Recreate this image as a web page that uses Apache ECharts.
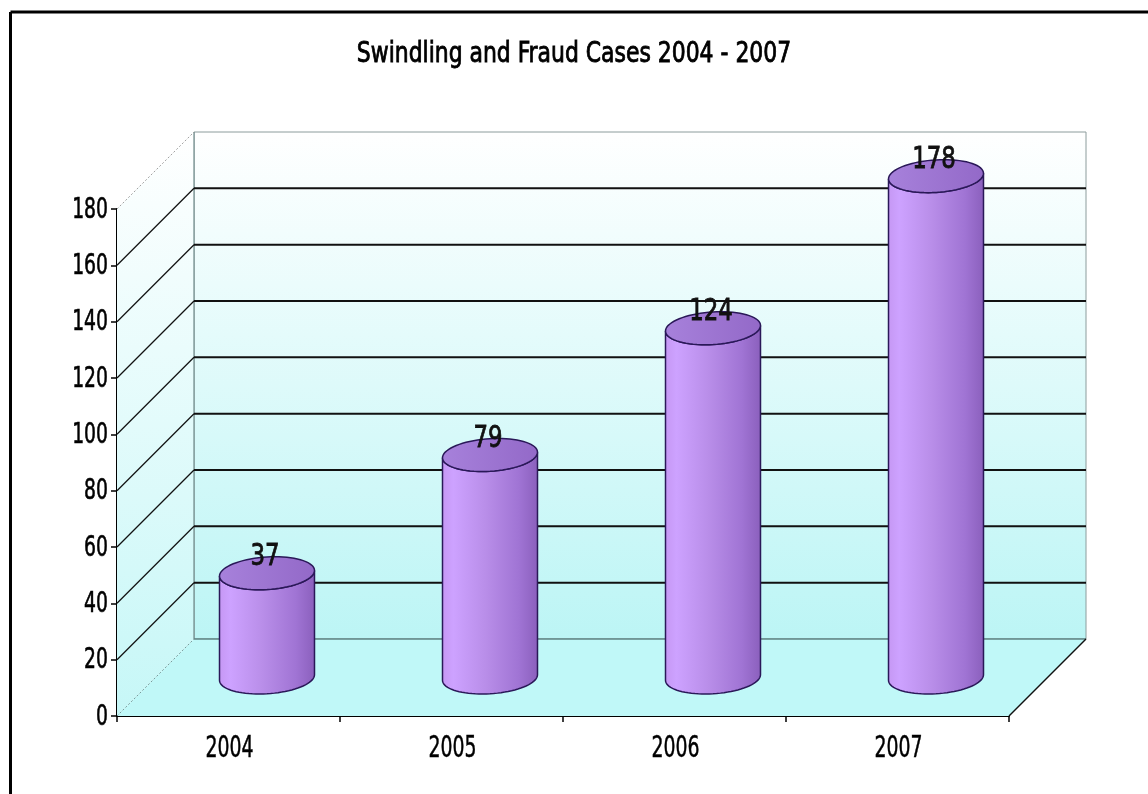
<!DOCTYPE html>
<html>
<head>
<meta charset="utf-8">
<script src="https://cdn.jsdelivr.net/npm/echarts@6/dist/echarts.min.js"></script>
<style>
html,body{margin:0;padding:0;background:#fff;}
#chart{width:1148px;height:794px;}
</style>
</head>
<body>
<div id="chart"></div>
<script>
// ---- data ----
const titleText = 'Swindling and Fraud Cases 2004 - 2007';
const categories = ['2004', '2005', '2006', '2007'];
const caseCounts = [37, 79, 124, 178];
const yTicks = [0, 20, 40, 60, 80, 100, 120, 140, 160, 180];

// ---- style constants ----
const FONT = "'DejaVu Sans Condensed', 'Liberation Sans Narrow', sans-serif";
const DEPTH_X = 77, DEPTH_Y = -77;
const CYL_RATIO = 0.426, CYL_RY = 16.5, CYL_SHEAR = 8;
const Y_MAX = yTicks[yTicks.length - 1];
const NARROW = 0.72;

const chart = echarts.init(document.getElementById('chart'), null, {renderer: 'canvas'});

function frame(api) {
  const band = api.size([1, 0])[0];
  const L = api.coord([0, 0])[0] - band / 2;
  const R = api.coord([categories.length - 1, 0])[0] + band / 2;
  const y0 = api.coord([0, 0])[1];
  const yT = api.coord([0, Y_MAX])[1];
  return {band, L, R, y0, yT};
}

function renderWalls(params, api) {
  const f = frame(api);
  const {L, R, y0, yT} = f, dx = DEPTH_X, dy = DEPTH_Y;
  const wallGrad = new echarts.graphic.LinearGradient(0, 0, 0, 1, [
    {offset: 0, color: '#ffffff'}, {offset: 1, color: '#bcf5f5'}]);
  const sideGrad = new echarts.graphic.LinearGradient(0, 0, 0, 1, [
    {offset: 0, color: '#ffffff'}, {offset: 1, color: '#c6f7f7'}]);
  return {
    type: 'group',
    children: [
      {type: 'polygon', shape: {points: [[L + dx, yT + dy], [R + dx, yT + dy], [R + dx, y0 + dy], [L + dx, y0 + dy]]},
        style: {fill: wallGrad, stroke: '#8c9c9c', lineWidth: 1}},
      {type: 'polygon', shape: {points: [[L, y0], [L, yT], [L + dx, yT + dy], [L + dx, y0 + dy]]},
        style: {fill: sideGrad, stroke: null}},
      {type: 'polygon', shape: {points: [[L, y0], [R, y0], [R + dx, y0 + dy], [L + dx, y0 + dy]]},
        style: {fill: '#c0f8f8', stroke: null}},
      {type: 'line', shape: {x1: L + dx, y1: yT + dy, x2: L + dx, y2: y0 + dy}, style: {stroke: '#6f8a8a', lineWidth: 1.2}},
      {type: 'line', shape: {x1: L + dx, y1: y0 + dy, x2: R + dx, y2: y0 + dy}, style: {stroke: '#5f8585', lineWidth: 1.5}},
      {type: 'line', shape: {x1: R, y1: y0, x2: R + dx, y2: y0 + dy}, style: {stroke: '#111', lineWidth: 1.5}},
      {type: 'line', shape: {x1: L, y1: yT, x2: L + dx, y2: yT + dy}, style: {stroke: '#a0a0a0', lineWidth: 1, lineDash: [2, 2]}},
      {type: 'line', shape: {x1: L, y1: y0, x2: L + dx, y2: y0 + dy}, style: {stroke: '#7a9a9a', lineWidth: 1, lineDash: [2, 2]}}
    ]
  };
}

function renderGrid(params, api) {
  const v = api.value(0);
  const f = frame(api);
  const y = api.coord([0, v])[1];
  const dx = DEPTH_X, dy = DEPTH_Y;
  const children = [
    {type: 'text', x: f.L - 9, y: y + 1, scaleX: NARROW,
      style: {text: String(v), x: 0, y: 0, textAlign: 'right', textVerticalAlign: 'middle',
        fontFamily: FONT, fontSize: 29, fill: '#000', stroke: '#000', lineWidth: 0.6}}
  ];
  if (v > 0 && v < Y_MAX) {
    children.push(
      {type: 'line', shape: {x1: f.L, y1: y, x2: f.L + dx, y2: y + dy}, style: {stroke: '#111', lineWidth: 1.3}},
      {type: 'line', shape: {x1: f.L + dx, y1: y + dy, x2: f.R + dx, y2: y + dy}, style: {stroke: '#111', lineWidth: 2}}
    );
  }
  return {type: 'group', children};
}

function renderCategoryLabel(params, api) {
  const i = api.value(0);
  const p = api.coord([i, 0]);
  return {type: 'text', x: p[0] + 1, y: p[1] + 33, scaleX: 0.7,
    style: {text: categories[i], x: 0, y: 0, textAlign: 'center', textVerticalAlign: 'middle',
      fontFamily: FONT, fontSize: 30, fill: '#000', stroke: '#000', lineWidth: 0.5}};
}

function renderCylinder(params, api) {
  const i = api.value(0), v = api.value(1);
  const band = api.size([1, 0])[0];
  const top = api.coord([i, v]), base = api.coord([i, 0]);
  const cx = top[0] + DEPTH_X / 2;
  const ty = top[1] + DEPTH_Y / 2, by = base[1] + DEPTH_Y / 2;
  const half = band * CYL_RATIO / 2;
  const s = CYL_SHEAR;
  const rx = Math.sqrt(half * half - s * s), ry = CYL_RY;
  const pt = (t, cy) => [cx + rx * Math.cos(t) - s * Math.sin(t), cy + ry * Math.sin(t)];
  const t0 = Math.atan2(-s, rx), t1 = t0 + Math.PI;
  const N = 40;
  const body = [];
  for (let k = 0; k <= N; k++) body.push(pt(t0 + (t1 - t0) * k / N, by));
  for (let k = 0; k <= N; k++) body.push(pt(t1 - (t1 - t0) * k / N, ty));
  const cap = [];
  for (let k = 0; k < 72; k++) cap.push(pt(2 * Math.PI * k / 72, ty));
  const bodyGrad = new echarts.graphic.LinearGradient(0, 0, 1, 0, [
    {offset: 0, color: '#c597f3'}, {offset: 0.12, color: '#cda2ff'}, {offset: 0.45, color: '#b98ee9'},
    {offset: 0.8, color: '#a074d4'}, {offset: 1, color: '#8a5fbc'}]);
  const capGrad = new echarts.graphic.LinearGradient(0, 0, 1, 0, [
    {offset: 0, color: '#a781db'}, {offset: 1, color: '#9369c8'}]);
  return {
    type: 'group',
    children: [
      {type: 'polygon', shape: {points: body}, style: {fill: bodyGrad, stroke: '#2a1858', lineWidth: 1.5}},
      {type: 'polygon', shape: {points: cap}, style: {fill: capGrad, stroke: '#2a1858', lineWidth: 1.5}},
      {type: 'text', x: cx - 2, y: ty - 16, scaleX: 0.82,
        style: {text: String(v), x: 0, y: 0, textAlign: 'center', textVerticalAlign: 'middle',
          fontFamily: FONT, fontSize: 31, fontWeight: 'normal', fill: '#111', stroke: '#111', lineWidth: 0.8}}
    ]
  };
}

const option = {
  backgroundColor: '#ffffff',
  animation: false,
  grid: {left: 117, right: 139, top: 209, bottom: 78},
  xAxis: {
    type: 'category', data: categories, boundaryGap: true,
    axisLine: {show: true, lineStyle: {color: '#000', width: 2}},
    axisTick: {show: true, length: 6, lineStyle: {color: '#000', width: 1.5}},
    axisLabel: {show: false},
    splitLine: {show: false}
  },
  yAxis: {
    type: 'value', min: 0, max: Y_MAX, interval: 20,
    axisLine: {show: true, lineStyle: {color: '#000', width: 2}},
    axisTick: {show: true, length: 6, lineStyle: {color: '#000', width: 1.5}},
    axisLabel: {show: false},
    splitLine: {show: false}
  },
  graphic: [
    {type: 'line', shape: {x1: 10.5, y1: 12, x2: 1148, y2: 12}, style: {stroke: '#000', lineWidth: 3}},
    {type: 'line', shape: {x1: 10.5, y1: 12, x2: 10.5, y2: 794}, style: {stroke: '#000', lineWidth: 3}},
    {type: 'text', x: 574, y: 55, scaleX: 0.87,
      style: {text: titleText, x: 0, y: 0, textAlign: 'center', textVerticalAlign: 'middle',
        fontFamily: FONT, fontSize: 28, fontWeight: 'normal', fill: '#000', stroke: '#000', lineWidth: 0.8}}
  ],
  series: [
    {type: 'custom', name: 'walls', z: 1, silent: true, data: [[0]], renderItem: renderWalls, encode: {y: 0}},
    {type: 'custom', name: 'grid', z: 2, silent: true, data: yTicks.map(t => [t]), renderItem: renderGrid, encode: {y: 0}},
    {type: 'custom', name: 'labels', z: 2, silent: true, data: categories.map((c, i) => [i]), renderItem: renderCategoryLabel, encode: {x: 0}},
    {type: 'custom', name: 'Cases', z: 3, data: caseCounts.map((v, i) => [i, v]), renderItem: renderCylinder, encode: {x: 0, y: 1}}
  ]
};
chart.setOption(option);
</script>
</body>
</html>
